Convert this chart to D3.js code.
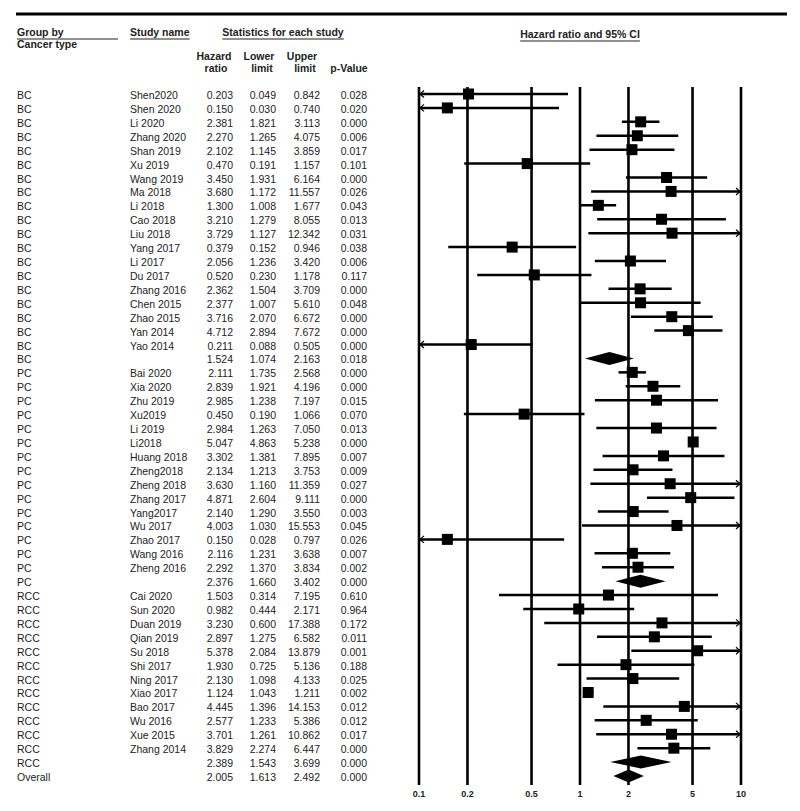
<!DOCTYPE html>
<html>
<head>
<meta charset="utf-8">
<script src="https://cdn.jsdelivr.net/npm/d3@7"></script>
<style>
  body { margin: 0; background: #fff; }
  text { font-family: "Liberation Sans", Arial, sans-serif; fill: #222; }
</style>
</head>
<body>
<div id="chart"></div>
<script>
// Rows of the table, top to bottom. An empty study name marks a subgroup summary.
const groups = [
  "BC","BC","BC","BC","BC","BC","BC","BC","BC","BC","BC","BC","BC","BC","BC","BC","BC","BC","BC","BC",
  "PC","PC","PC","PC","PC","PC","PC","PC","PC","PC","PC","PC","PC","PC","PC","PC",
  "RCC","RCC","RCC","RCC","RCC","RCC","RCC","RCC","RCC","RCC","RCC","RCC","RCC",
  "Overall"
];
const studies = [
  "Shen2020","Shen 2020","Li 2020","Zhang 2020","Shan 2019","Xu 2019","Wang 2019","Ma 2018","Li 2018","Cao 2018",
  "Liu 2018","Yang 2017","Li 2017","Du 2017","Zhang 2016","Chen 2015","Zhao 2015","Yan 2014","Yao 2014","",
  "Bai 2020","Xia 2020","Zhu 2019","Xu2019","Li 2019","Li2018","Huang 2018","Zheng2018","Zheng 2018","Zhang 2017",
  "Yang2017","Wu 2017","Zhao 2017","Wang 2016","Zheng 2016","",
  "Cai 2020","Sun 2020","Duan 2019","Qian 2019","Su 2018","Shi 2017","Ning 2017","Xiao 2017","Bao 2017","Wu 2016",
  "Xue 2015","Zhang 2014","",
  ""
];
const hazard = [
  0.203,0.150,2.381,2.270,2.102,0.470,3.450,3.680,1.300,3.210,3.729,0.379,2.056,0.520,2.362,2.377,3.716,4.712,0.211,1.524,
  2.111,2.839,2.985,0.450,2.984,5.047,3.302,2.134,3.630,4.871,2.140,4.003,0.150,2.116,2.292,2.376,
  1.503,0.982,3.230,2.897,5.378,1.930,2.130,1.124,4.445,2.577,3.701,3.829,2.389,
  2.005
];
const lower = [
  0.049,0.030,1.821,1.265,1.145,0.191,1.931,1.172,1.008,1.279,1.127,0.152,1.236,0.230,1.504,1.007,2.070,2.894,0.088,1.074,
  1.735,1.921,1.238,0.190,1.263,4.863,1.381,1.213,1.160,2.604,1.290,1.030,0.028,1.231,1.370,1.660,
  0.314,0.444,0.600,1.275,2.084,0.725,1.098,1.043,1.396,1.233,1.261,2.274,1.543,
  1.613
];
const upper = [
  0.842,0.740,3.113,4.075,3.859,1.157,6.164,11.557,1.677,8.055,12.342,0.946,3.420,1.178,3.709,5.610,6.672,7.672,0.505,2.163,
  2.568,4.196,7.197,1.066,7.050,5.238,7.895,3.753,11.359,9.111,3.550,15.553,0.797,3.638,3.834,3.402,
  7.195,2.171,17.388,6.582,13.879,5.136,4.133,1.211,14.153,5.386,10.862,6.447,3.699,
  2.492
];
const pvalues = [
  0.028,0.020,0.000,0.006,0.017,0.101,0.000,0.026,0.043,0.013,0.031,0.038,0.006,0.117,0.000,0.048,0.000,0.000,0.000,0.018,
  0.000,0.000,0.015,0.070,0.013,0.000,0.007,0.009,0.027,0.000,0.003,0.045,0.026,0.007,0.002,0.000,
  0.610,0.964,0.172,0.011,0.001,0.188,0.025,0.002,0.012,0.012,0.017,0.000,0.000,
  0.000
];
const ticks = [0.1, 0.2, 0.5, 1, 2, 5, 10];

const rows = groups.map((g, i) => ({
  group: g, study: studies[i], hr: hazard[i], lo: lower[i], hi: upper[i], p: pvalues[i],
  summary: studies[i] === ""
}));

const W = 800, H = 811;
const svg = d3.select("#chart").append("svg")
  .attr("width", W).attr("height", H);

const x = d3.scaleLog().domain([0.1, 10]).range([419, 741]);
const y = d3.scalePoint().domain(d3.range(rows.length)).range([94, 776]);
const fmt = d3.format(".3f");
const fs = "10.5px";

// Top rule.
svg.append("line")
  .attr("x1", 16).attr("x2", 787).attr("y1", 14).attr("y2", 14)
  .attr("stroke", "#000").attr("stroke-width", 3);

// Headers.
const header = (txt, xx, yy, anchor, underline) => {
  const t = svg.append("text")
    .attr("x", xx).attr("y", yy)
    .attr("text-anchor", anchor || "start")
    .style("font-size", fs).style("font-weight", "bold")
    .text(txt);
  if (underline) {
    const b = t.node().getBBox();
    svg.append("line")
      .attr("x1", underline[0] != null ? underline[0] : b.x)
      .attr("x2", underline[1] != null ? underline[1] : b.x + b.width)
      .attr("y1", yy + 3).attr("y2", yy + 3)
      .attr("stroke", "#222").attr("stroke-width", 1.2);
  }
};
header("Group by", 17, 36, "start", [17, 118]);
header("Cancer type", 17, 48);
header("Study name", 130, 36, "start", [130, null]);
header("Statistics for each study", 283, 36, "middle", [null, null]);
header("Hazard", 214, 60, "middle");
header("ratio", 216, 72, "middle");
header("Lower", 259, 60, "middle");
header("limit", 262, 72, "middle");
header("Upper", 302, 60, "middle");
header("limit", 305, 72, "middle");
header("p-Value", 349, 72, "middle");
header("Hazard ratio and 95% CI", 580, 38, "middle", [null, null]);

// Table columns.
const cols = [
  { key: d => d.group, x: 17, anchor: "start" },
  { key: d => d.study, x: 130, anchor: "start" },
  { key: d => fmt(d.hr), x: 233, anchor: "end" },
  { key: d => fmt(d.lo), x: 276, anchor: "end" },
  { key: d => fmt(d.hi), x: 320, anchor: "end" },
  { key: d => fmt(d.p), x: 367, anchor: "end" }
];
cols.forEach(c => {
  svg.append("g").selectAll("text")
    .data(rows)
    .join("text")
    .attr("x", c.x)
    .attr("y", (d, i) => y(i) + 5)
    .attr("text-anchor", c.anchor)
    .style("font-size", fs)
    .text(c.key);
});

// Vertical reference lines at each tick.
svg.append("g").selectAll("line")
  .data(ticks)
  .join("line")
  .attr("x1", d => x(d)).attr("x2", d => x(d))
  .attr("y1", 87).attr("y2", 785)
  .attr("stroke", "#000").attr("stroke-width", 2.6);

svg.append("g").selectAll("text")
  .data(ticks)
  .join("text")
  .attr("x", d => x(d)).attr("y", 797)
  .attr("text-anchor", "middle")
  .style("font-size", "9px").style("font-weight", "bold")
  .text(d => d);

// Confidence intervals and point estimates.
const clamp = v => Math.max(0.1, Math.min(10, v));
const studyRows = rows.map((d, i) => ({ ...d, i })).filter(d => !d.summary);

const plot = svg.append("g");
plot.selectAll(".ci")
  .data(studyRows)
  .join("line")
  .attr("class", "ci")
  .attr("x1", d => x(clamp(d.lo))).attr("x2", d => x(clamp(d.hi)))
  .attr("y1", d => y(d.i)).attr("y2", d => y(d.i))
  .attr("stroke", "#000").attr("stroke-width", 2.5);

// Arrow heads where the interval runs off the scale.
plot.selectAll(".arrL")
  .data(studyRows.filter(d => d.lo < 0.1))
  .join("path")
  .attr("d", d => `M${x(0.1) + 5},${y(d.i) - 3.5}L${x(0.1) + 1},${y(d.i)}L${x(0.1) + 5},${y(d.i) + 3.5}`)
  .attr("fill", "none").attr("stroke", "#000").attr("stroke-width", 1.2);
plot.selectAll(".arrR")
  .data(studyRows.filter(d => d.hi > 10))
  .join("path")
  .attr("d", d => `M${x(10) - 5},${y(d.i) - 3.5}L${x(10) - 1},${y(d.i)}L${x(10) - 5},${y(d.i) + 3.5}`)
  .attr("fill", "none").attr("stroke", "#000").attr("stroke-width", 1.2);

const sq = 11;
plot.selectAll(".pt")
  .data(studyRows)
  .join("rect")
  .attr("class", "pt")
  .attr("x", d => x(d.hr) - sq / 2).attr("y", d => y(d.i) - sq / 2)
  .attr("width", sq).attr("height", sq)
  .attr("fill", "#000");

// Summary diamonds.
const dh = 6.5;
plot.selectAll(".dia")
  .data(rows.map((d, i) => ({ ...d, i })).filter(d => d.summary))
  .join("path")
  .attr("d", d => {
    const cy = y(d.i);
    return `M${x(d.lo)},${cy}L${x(d.hr)},${cy - dh}L${x(d.hi)},${cy}L${x(d.hr)},${cy + dh}Z`;
  })
  .attr("fill", "#000");
</script>
</body>
</html>
